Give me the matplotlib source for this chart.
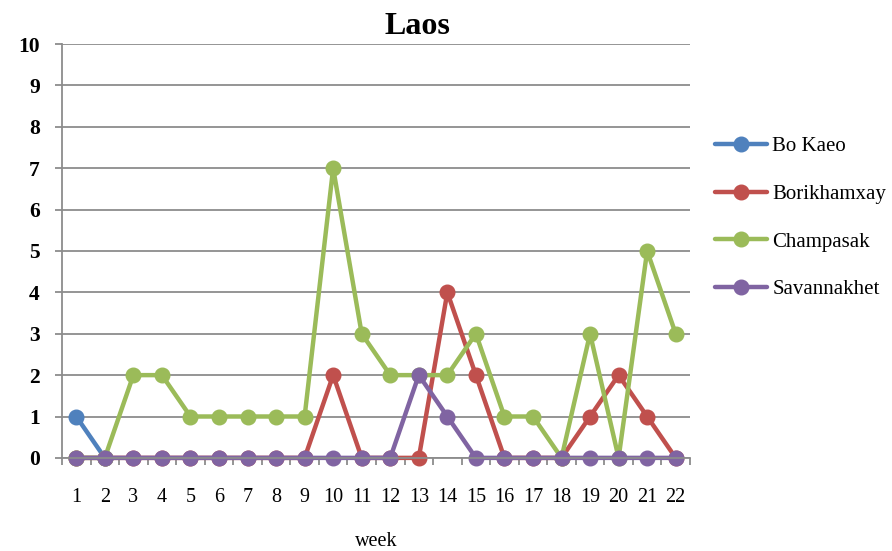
import numpy as np
import matplotlib.pyplot as plt
from matplotlib.ticker import MultipleLocator

plt.rcParams['font.family'] = ['Liberation Serif', 'DejaVu Serif']

nan = np.nan
weeks = list(range(1, 23))
bo_kaeo = [1, 0] + [nan] * 20
borikhamxay = [0, 0, 0, 0, 0, 0, 0, 0, 0, 2, 0, 0, 0, 4, 2, 0, 0, 0, 1, 2, 1, 0]
champasak = [0, 0, 2, 2, 1, 1, 1, 1, 1, 7, 3, 2, 2, 2, 3, 1, 1, 0, 3, 0, 5, 3]
savannakhet = [0, 0, 0, 0, 0, 0, 0, 0, 0, 0, 0, 0, 2, 1, 0, 0, 0, 0, 0, 0, 0, 0]

series = [
    ('Bo Kaeo', bo_kaeo, '#4F81BD'),
    ('Borikhamxay', borikhamxay, '#C0504D'),
    ('Champasak', champasak, '#9BBB59'),
    ('Savannakhet', savannakhet, '#8064A2'),
]

fig = plt.figure(figsize=(8.92, 5.51), dpi=100)
ax = fig.add_axes([0.0695, 0.169, 0.704, 0.751])

for name, vals, col in series:
    ax.plot(weeks, vals, color=col, lw=3.2, marker='o', ms=10.5,
            label=name, solid_capstyle='round', clip_on=False)

grid_col = '#8c8c8c'
ax.set_xlim(0.5, 22.5)
ax.set_ylim(0, 10)
ax.yaxis.set_major_locator(MultipleLocator(1))
ax.grid(axis='y', color=grid_col, lw=1.3)
ax.set_axisbelow(True)
for s in ['top', 'right']:
    ax.spines[s].set_visible(False)
for s in ['left', 'bottom']:
    ax.spines[s].set_color(grid_col)
    ax.spines[s].set_linewidth(1.3)

ax.set_xticks(weeks)
ax.set_xticklabels([str(w) for w in weeks], fontsize=14.5)
ax.set_xticks(np.arange(0.5, 23, 1), minor=True)
ax.tick_params(axis='x', which='major', length=0, pad=22)
ax.tick_params(axis='x', which='minor', length=5, color=grid_col, width=1.3)
ax.tick_params(axis='y', length=5, color=grid_col, width=1.3, labelsize=15.5, pad=11)
for lab in ax.get_yticklabels():
    lab.set_fontweight('bold')

fig.text(417 / 892, 1 - 27 / 551, 'Laos', fontsize=23, fontweight='bold',
         ha='center', va='center')
ax.set_xlabel('week', fontsize=14.5, labelpad=18)

fig.legend(loc='center left', bbox_to_anchor=(715 / 892, 1 - 218 / 551), frameon=False,
           fontsize=15, labelspacing=1.35, handlelength=2.5, handletextpad=0.25,
           borderpad=0, borderaxespad=0)

fig.savefig('out.png', dpi=100)
